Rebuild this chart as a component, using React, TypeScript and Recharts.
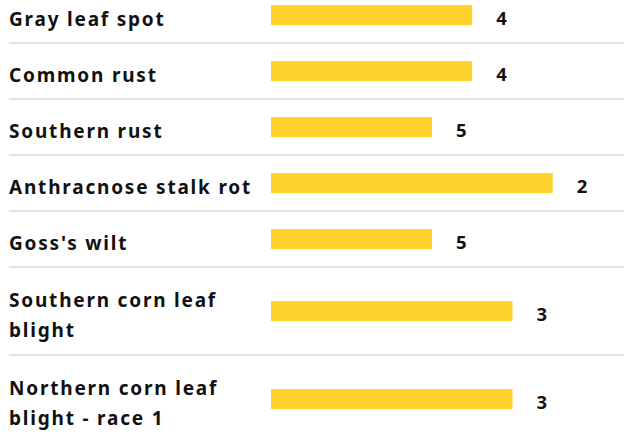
import { BarChart, Bar, XAxis, YAxis, LabelList, ReferenceLine } from "recharts";

const diseases = [
  "Gray leaf spot",
  "Common rust",
  "Southern rust",
  "Anthracnose stalk rot",
  "Goss's wilt",
  "Southern corn leaf blight",
  "Northern corn leaf blight - race 1",
];
// rating printed next to each bar
const ratings = [4, 4, 5, 2, 5, 3, 3];
// bar length
const barScores = [5, 5, 4, 7, 4, 6, 6];

const WIDTH = 624;
const HEIGHT = 439;
const ROW_ONE = 56;
const ROW_TWO = 88;
const TOP_CROP = 13;
const FONT = "'Noto Sans', sans-serif";
const TEXT = "#111111";

const wrap = (label: string, max = 22) => {
  const lines: string[] = [];
  let cur = "";
  label.split(" ").forEach((w) => {
    if (cur && (cur + " " + w).length > max) {
      lines.push(cur);
      cur = w;
    } else {
      cur = cur ? cur + " " + w : w;
    }
  });
  if (cur) lines.push(cur);
  return lines;
};

let cursor = 0;
const rows = diseases.map((name, i) => {
  const lines = wrap(name);
  const h = lines.length > 1 ? ROW_TWO : ROW_ONE;
  const row = { name, lines, top: cursor, mid: cursor + h / 2, rating: ratings[i], score: barScores[i] };
  cursor += h;
  return row;
});
const boundaries = rows.slice(1).map((r) => r.top);

const NameTick = (props: any) => {
  const { y, payload } = props;
  const row = rows.find((r) => r.mid === payload.value);
  if (!row) return null;
  const lh = 30.5;
  const first = 11 - ((row.lines.length - 1) * lh) / 2;
  return (
    <text x={9} y={y} fill={TEXT} fontFamily={FONT} fontWeight={700} fontSize={19} letterSpacing={1.8}>
      {row.lines.map((l, i) => (
        <tspan key={i} x={9} dy={i === 0 ? first : lh}>
          {l}
        </tspan>
      ))}
    </text>
  );
};

const RatingLabel = (props: any) => {
  const { x, y, width, height, value } = props;
  return (
    <text
      x={x + width + 24}
      y={y + height / 2 + 10}
      fill={TEXT}
      fontFamily={FONT}
      fontWeight={700}
      fontSize={18.5}
    >
      {value}
    </text>
  );
};

const Separator = (props: any) => (
  <line x1={9} x2={WIDTH} y1={props.y1} y2={props.y1} stroke="#e2e2e2" strokeWidth={2} />
);

export default function App() {
  return (
    <div style={{ position: "absolute", left: 0, top: 0, background: "#fff" }}>
      <BarChart
        width={WIDTH}
        height={HEIGHT}
        data={rows}
        layout="vertical"
        margin={{ top: 0, right: 31, bottom: 0, left: 9 }}
      >
        <XAxis type="number" domain={[0, 8]} hide />
        <YAxis
          type="number"
          dataKey="mid"
          domain={[TOP_CROP, TOP_CROP + HEIGHT]}
          allowDataOverflow
          ticks={rows.map((r) => r.mid)}
          interval={0}
          width={262}
          axisLine={false}
          tickLine={false}
          tick={<NameTick />}
        />
        {boundaries.map((b) => (
          <ReferenceLine key={b} y={b} ifOverflow="visible" shape={<Separator />} />
        ))}
        <Bar dataKey="score" fill="#fdd22d" barSize={20} isAnimationActive={false}>
          <LabelList dataKey="rating" content={<RatingLabel />} />
        </Bar>
      </BarChart>
    </div>
  );
}
